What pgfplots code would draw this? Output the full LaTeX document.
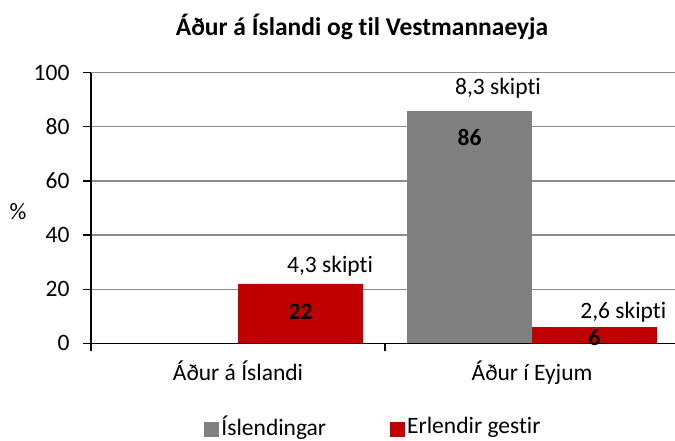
\documentclass[border=0pt]{standalone}
\usepackage{pgfplots}
\pgfplotsset{compat=1.18}
\usepackage{fontspec}
\setmainfont{Carlito}[Ligatures={NoCommon}]
\definecolor{barred}{HTML}{C00000}
\definecolor{bargray}{HTML}{808080}
\definecolor{gridgray}{HTML}{8C8C8C}
\newcommand{\fs}{\fontsize{23.5}{27}\selectfont}
\begin{document}
\begin{tikzpicture}
\useasboundingbox (-91pt,-96.7pt) rectangle (584pt,343.3pt);
\begin{axis}[
  at={(0pt,0pt)}, anchor=south west,
  scale only axis, width=584pt, height=270.6pt,
  xmin=-0.5, xmax=1.486, ymin=0, ymax=100,
  axis x line*=bottom, axis y line*=left,
  axis line style={black, line width=1.2pt, -},
  ytick={0,20,...,100},
  ymajorgrids, grid style={gridgray, line width=1.2pt},
  tick align=outside, major tick length=8pt,
  tick style={black, line width=1.2pt},
  xtick={-0.5,0.5}, xticklabels={},
  extra x ticks={0,1}, extra x tick labels={Áður á Íslandi,Áður í Eyjum},
  extra x tick style={major tick length=0pt, xticklabel style={yshift=-14pt}},
  /pgf/number format/assume math mode=true,
  every tick label/.append style={font=\fs},
  yticklabel style={xshift=-10pt},
  legend style={at={(0.4837,-0.3056)}, anchor=center, draw=none, fill=none,
    legend columns=2, font=\fs,
    /tikz/every even column/.append style={column sep=62pt},
    inner sep=0pt},
  legend image code/.code={\fill[#1] (0pt,-10.7pt) rectangle (15pt,4.3pt);},
  clip=false,
]
\addplot[ybar, bar width=0.425, bar shift=-0.2125, fill=bargray, draw=none] coordinates {(1,86)};
\addlegendentry{Íslendingar}
\addplot[ybar, bar width=0.425, bar shift=0.2125, fill=barred, draw=none] coordinates {(0,22) (1,6)};
\addlegendentry{Erlendir gestir}
\node[font=\fs\bfseries] at (axis cs:0.2125,11.6) {22};
\node[font=\fs\bfseries] at (axis cs:0.7875,75.9) {86};
\node[font=\fs\bfseries] at (axis cs:1.2125,2.3) {6};
\node[font=\fs] at (axis cs:0.313,28.6) {4,3 skipti};
\node[font=\fs] at (axis cs:0.884,94.4) {8,3 skipti};
\node[font=\fs] at (axis cs:1.31,11.6) {2,6 skipti};
\end{axis}
\node[font=\fontsize{25.5}{30}\selectfont\bfseries] at (271pt,316.3pt) {Áður á Íslandi og til Vestmannaeyja};
\node[font=\fs] at (-73pt,131.3pt) {\%};
\end{tikzpicture}
\end{document}
